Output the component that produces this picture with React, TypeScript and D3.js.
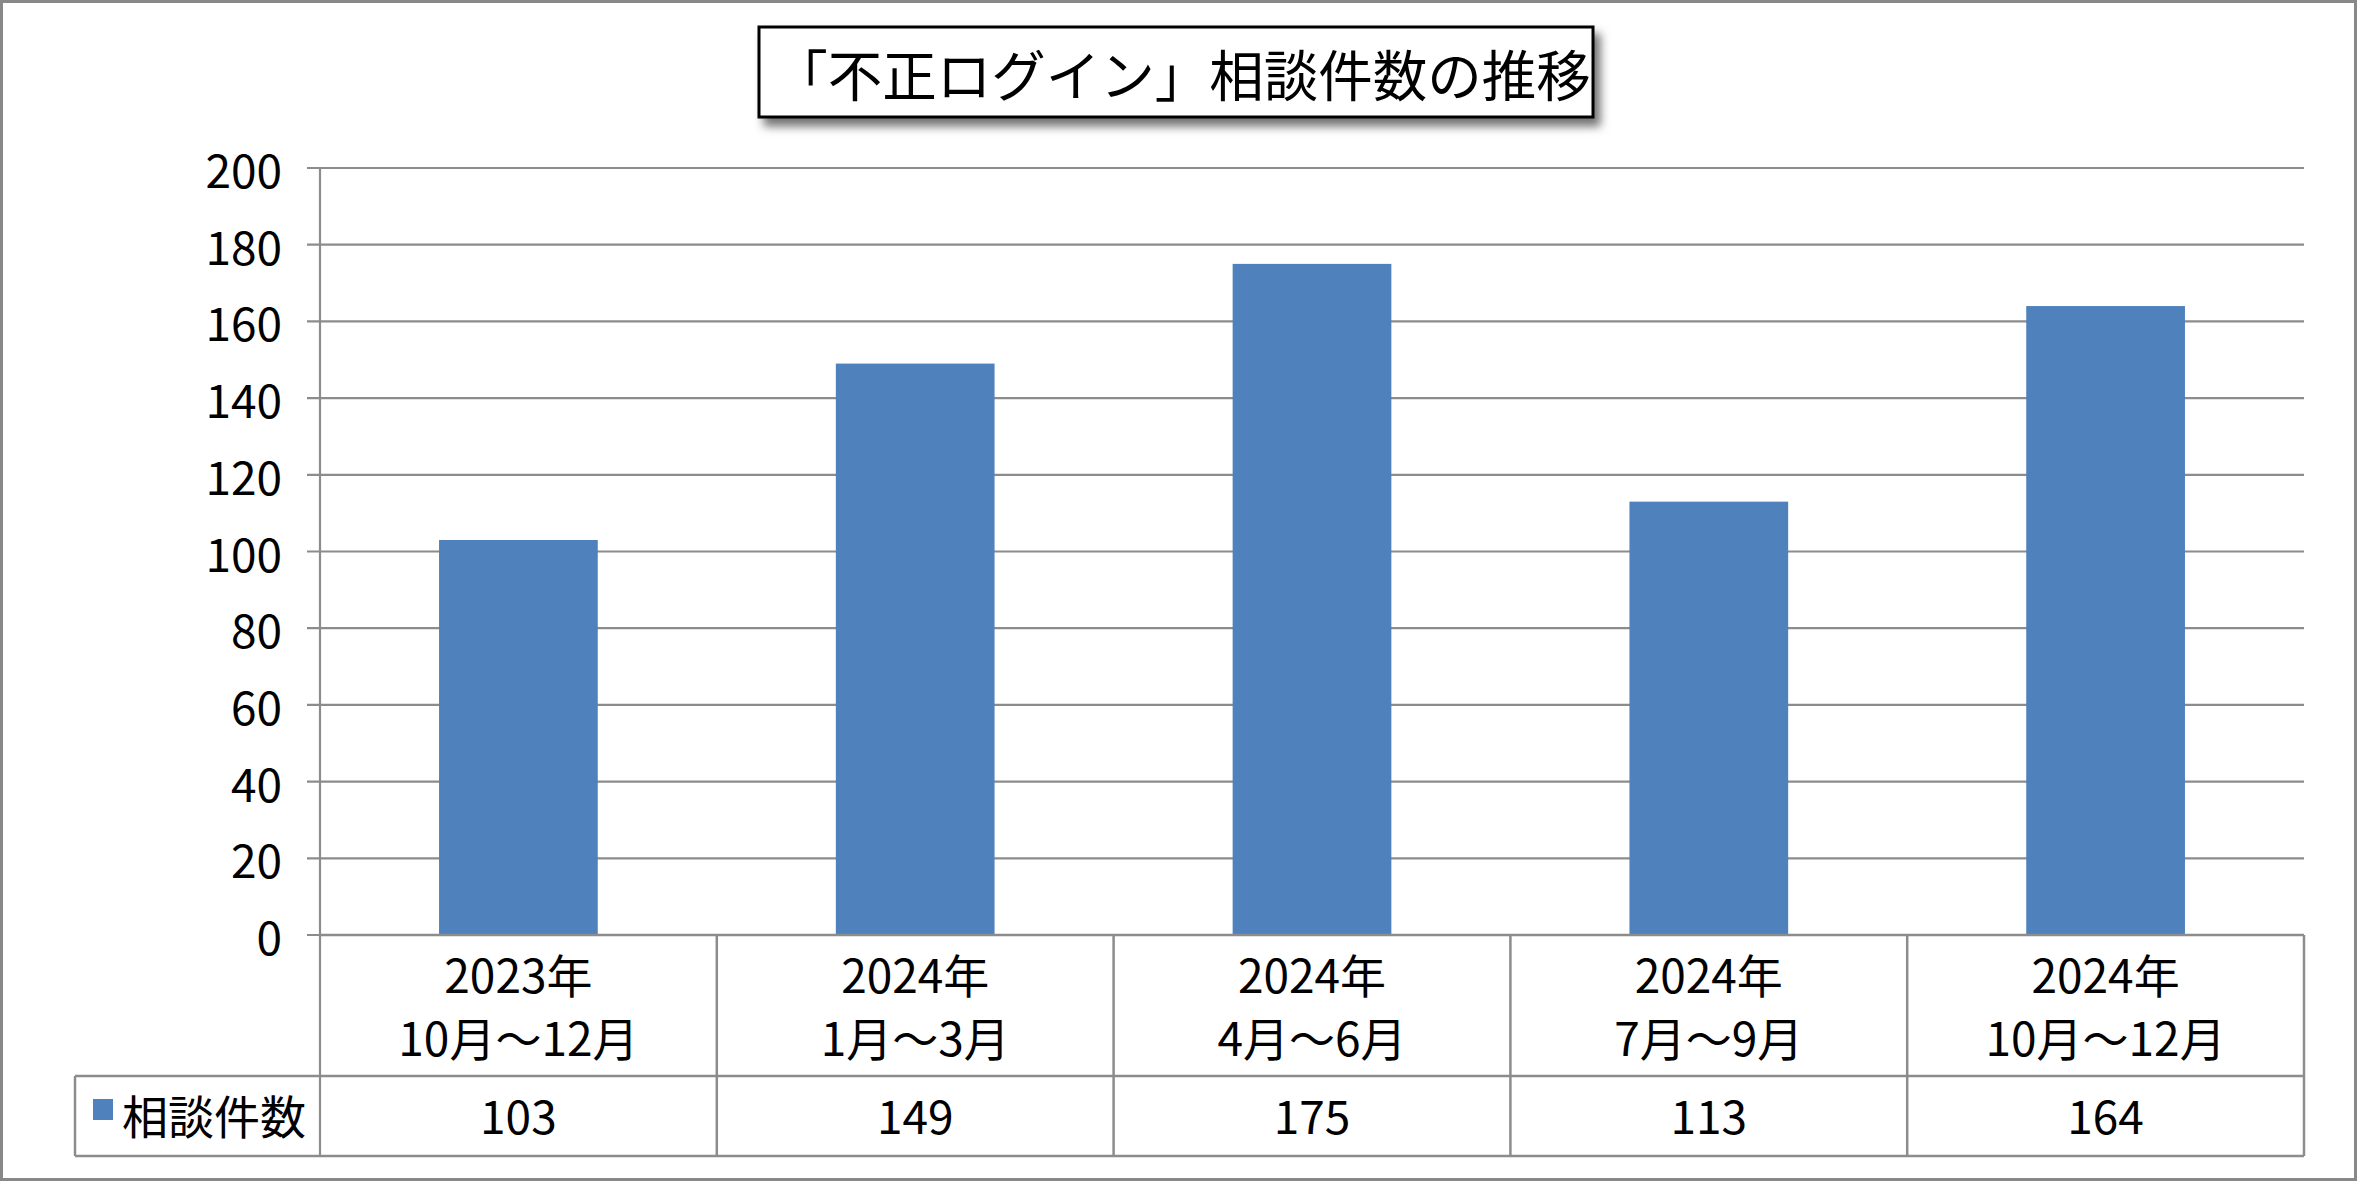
import React from "react";
import * as d3 from "d3";

const title = "「不正ログイン」相談件数の推移";
const categoriesLine1 = ["2023年", "2024年", "2024年", "2024年", "2024年"];
const categoriesLine2 = ["10月～12月", "1月～3月", "4月～6月", "7月～9月", "10月～12月"];
const seriesName = "相談件数";
const values = [103, 149, 175, 113, 164];
const yTicks = [0, 20, 40, 60, 80, 100, 120, 140, 160, 180, 200];

const W = 2357;
const H = 1181;
const FONT = "'Noto Sans CJK JP', 'Noto Sans', sans-serif";
const GRID = "#8c8c8c";
const BAR = "#4F81BD";

export default function App() {
  const left = 320;
  const right = 2304;
  const top = 168;
  const zeroY = 935;
  const rowMid = 1076;
  const tableBottom = 1156;
  const legendLeft = 75;

  const idx = values.map((_, i) => String(i));
  const x = d3.scaleBand<string>().domain(idx).range([left, right]).padding(0);
  const y = d3.scaleLinear().domain([0, 200]).range([zeroY, top]);
  const bw = x.bandwidth() * 0.4;

  return (
    <svg
      width={W}
      height={H}
      style={{ position: "absolute", left: 0, top: 0, background: "#fff" }}
      fontFamily={FONT}
    >
      <defs>
        <filter id="shadow" x="-10%" y="-30%" width="120%" height="170%">
          <feDropShadow dx="6" dy="8" stdDeviation="5" floodColor="#000" floodOpacity="0.55" />
        </filter>
      </defs>
      <rect x={0} y={0} width={W} height={H} fill="#fff" />
      <rect x={1.5} y={1.5} width={W - 3} height={H - 3} fill="none" stroke="#888" strokeWidth={3} />

      {/* gridlines */}
      {yTicks.map((t) => (
        <g key={t}>
          <line x1={307} x2={right} y1={y(t)} y2={y(t)} stroke={GRID} strokeWidth={2.2} />
          <text x={282} y={y(t)} textAnchor="end" dominantBaseline="central" fontSize={46} fill="#000">
            {t}
          </text>
        </g>
      ))}

      {/* bars */}
      {values.map((v, i) => {
        const cx = (x(String(i)) as number) + x.bandwidth() / 2;
        return <rect key={i} x={cx - bw / 2} y={y(v)} width={bw} height={zeroY - y(v)} fill={BAR} />;
      })}

      {/* y axis */}
      <line x1={left} x2={left} y1={top} y2={tableBottom} stroke={GRID} strokeWidth={2.2} />

      {/* table */}
      <line x1={left} x2={right} y1={zeroY} y2={zeroY} stroke={GRID} strokeWidth={2.5} />
      <line x1={legendLeft} x2={right} y1={rowMid} y2={rowMid} stroke={GRID} strokeWidth={2.5} />
      <line x1={legendLeft} x2={right} y1={tableBottom} y2={tableBottom} stroke={GRID} strokeWidth={2.5} />
      <line x1={legendLeft} x2={legendLeft} y1={rowMid} y2={tableBottom} stroke={GRID} strokeWidth={2.5} />
      {values.map((_, i) => {
        const x1 = (x(String(i)) as number) + x.bandwidth();
        return <line key={i} x1={x1} x2={x1} y1={zeroY} y2={tableBottom} stroke={GRID} strokeWidth={2.5} />;
      })}

      {values.map((v, i) => {
        const cx = (x(String(i)) as number) + x.bandwidth() / 2;
        return (
          <g key={i} fontSize={46} fill="#000" textAnchor="middle">
            <text x={cx} y={973} dominantBaseline="central">{categoriesLine1[i]}</text>
            <text x={cx} y={1036} dominantBaseline="central">{categoriesLine2[i]}</text>
            <text x={cx} y={1114} dominantBaseline="central">{v}</text>
          </g>
        );
      })}

      {/* legend */}
      <rect x={93} y={1099} width={20} height={21} fill={BAR} />
      <text x={122} y={1114} dominantBaseline="central" fontSize={46} fill="#000">{seriesName}</text>

      {/* title */}
      <rect x={759} y={27} width={834} height={90} fill="#fff" stroke="#000" strokeWidth={3} filter="url(#shadow)" />
      <text x={1182} y={72} textAnchor="middle" dominantBaseline="central" fontSize={54.5} fill="#000">
        {title}
      </text>
    </svg>
  );
}
